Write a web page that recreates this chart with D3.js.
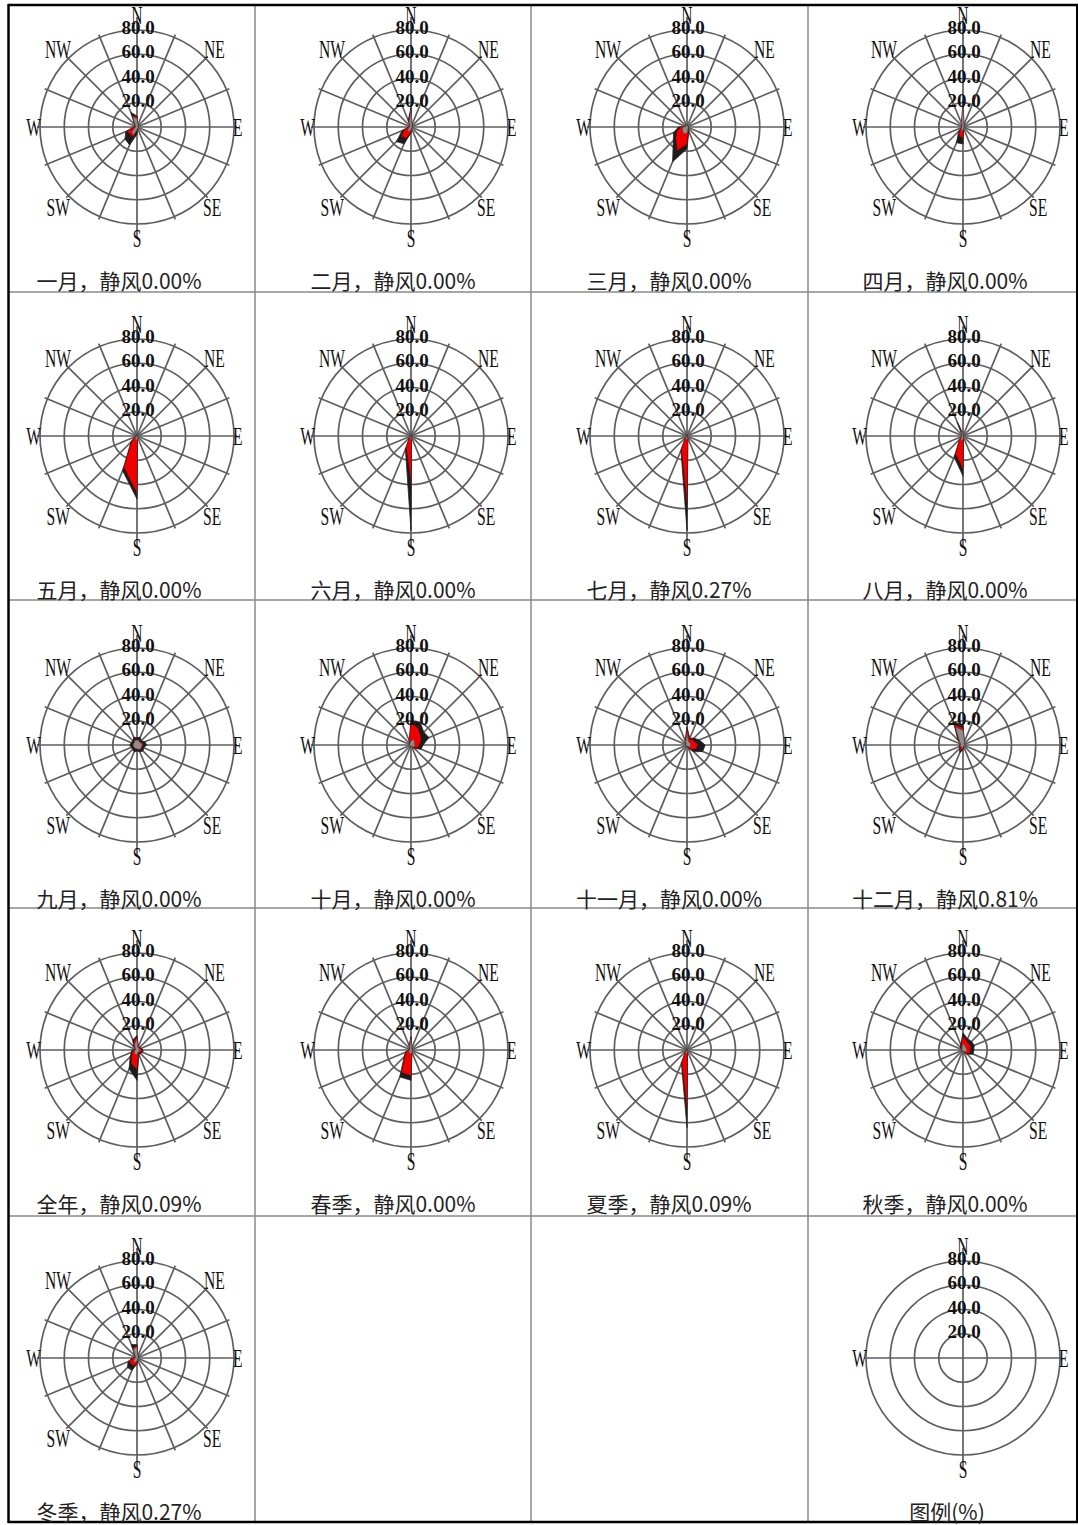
<!DOCTYPE html>
<html>
<head>
<meta charset="utf-8">
<script src="https://cdn.jsdelivr.net/npm/d3@7"></script>
<style>
  body { margin: 0; background: #fff; }
</style>
</head>
<body>
<svg id="chart" width="1078" height="1525"></svg>
<script>
// 16 compass sectors, clockwise from north
const directions = ["N","NNE","NE","ENE","E","ESE","SE","SSE","S","SSW","SW","WSW","W","WNW","NW","NNW"];

// one rose per month, the full year and the four seasons
const periodNames = ["一月","二月","三月","四月","五月","六月","七月","八月","九月","十月","十一月","十二月",
                     "全年","春季","夏季","秋季","冬季"];

// calm-wind frequency (%) for each period
const calmPercent = [0.00,0.00,0.00,0.00,0.00,0.00,0.27,0.00,0.00,0.00,0.00,0.81,
                     0.09,0.00,0.09,0.00,0.27];

// frequency (%) by direction, low wind-speed class
const lowSpeed = [
  [7,2,1,1,1,1,1,1,2,7,6,2,1,1,2,9],
  [14,2,1,1,1,1,1,1,2,4,4,2,1,1,1,4],
  [2,1,1,1,1,1,1,2,5,6,5,4,3,1,1,2],
  [20,2,1,1,1,1,1,1,3,3,2,1,1,1,1,3],
  [1,0,0,0,0,0,0,1,4,3,2,1,0,0,0,1],
  [1,0,0,0,0,0,0,1,3,2,1,0,0,0,0,0],
  [1,0,0,0,0,0,0,1,3,3,1,0,0,0,0,0],
  [2,1,0,0,0,0,0,1,3,4,2,1,1,1,1,6],
  [4,4,3,4,4,4,4,4,3,3,3,3,3,3,3,4],
  [3,5,4,3,3,3,2,1,1,1,1,1,1,1,1,2],
  [10,3,3,3,3,3,2,1,1,1,1,1,1,1,1,3],
  [12,3,1,1,2,2,1,1,2,3,2,2,2,2,4,16],
  [9,2,2,2,2,2,2,2,4,4,3,2,2,1,2,5],
  [9,2,1,1,1,1,1,2,3,3,2,2,1,1,1,3],
  [1,0,0,0,0,0,0,1,3,3,1,1,0,0,0,1],
  [5,4,3,3,3,3,2,1,1,1,1,1,1,1,1,2],
  [9,2,1,1,1,1,1,1,2,4,4,2,2,1,2,8]
];

// frequency (%) by direction, middle wind-speed class
const midSpeed = [
  [1,0,0,0,0,0,0,0,1,2,2,7,1,0,0,1],
  [1,0,0,0,0,0,0,0,2,6,7,4,1,0,0,1],
  [0,0,0,0,0,0,0,1,9,15,8,5,2,0,0,0],
  [1,0,0,0,0,0,0,0,6,5,2,0,0,0,0,0],
  [0,0,0,0,0,0,0,0,43,25,4,1,0,0,0,0],
  [0,0,0,0,0,0,0,0,35,8,1,0,0,0,0,0],
  [0,0,0,0,0,0,0,1,52,9,1,0,0,0,0,0],
  [0,0,0,0,0,0,0,0,24,12,2,0,0,0,0,1],
  [0,1,0,1,1,0,1,0,0,1,0,0,1,0,0,1],
  [15,10,7,6,4,3,1,0,0,0,0,0,0,0,0,2],
  [3,2,3,4,6,5,3,1,0,0,0,0,0,0,0,1],
  [2,0,0,0,0,0,0,0,1,2,1,1,1,0,1,2],
  [2,1,1,1,2,2,1,1,12,8,3,2,1,0,1,2],
  [1,0,0,0,0,0,0,0,18,17,5,2,1,0,0,1],
  [0,0,0,0,0,0,0,0,45,8,1,0,0,0,0,0],
  [6,4,4,4,3,3,2,1,0,0,0,0,0,0,1,2],
  [1,0,0,0,0,0,0,0,2,3,3,5,1,0,0,1]
];

// frequency (%) by direction, high wind-speed class
const highSpeed = [
  [1,0,0,0,0,0,0,0,3,7,6,1,1,0,1,3],
  [1,0,0,0,0,0,0,0,1,5,6,2,0,0,0,1],
  [0,0,0,0,0,0,0,1,4,10,3,3,2,0,0,0],
  [1,0,0,0,0,0,0,0,5,6,1,0,0,0,0,0],
  [0,0,0,0,0,0,0,0,5,3,1,0,0,0,0,0],
  [0,0,0,0,0,0,0,0,40,2,0,0,0,0,0,0],
  [0,0,0,0,0,0,0,0,23,1,0,0,0,0,0,0],
  [0,0,0,0,0,0,0,0,6,3,0,0,0,0,0,5],
  [2,2,2,2,3,2,2,2,2,2,2,2,2,2,2,2],
  [2,5,4,7,3,3,1,0,0,0,0,0,0,0,0,0],
  [2,1,2,4,6,6,3,1,0,0,0,0,0,0,0,0],
  [2,0,0,0,0,0,0,0,1,2,1,0,0,0,1,3],
  [1,0,0,1,1,1,1,1,9,5,2,1,1,0,1,2],
  [1,0,0,0,0,0,0,0,4,4,1,1,0,0,0,0],
  [0,0,0,0,0,0,0,0,16,1,0,0,0,0,0,0],
  [3,2,3,3,3,3,1,0,0,0,0,0,0,0,1,1],
  [1,0,0,0,0,0,0,0,1,4,4,1,1,0,1,3]
];

// radial ticks (%) and compass labels
const ringTicks = [20, 40, 60, 80];
const compassLabels = ["N","NE","E","SE","S","SW","W","NW"];
const legendCompass = ["N","E","S","W"];
const legendTitle = "图例(%)";

// ---------------- layout ----------------
const svg = d3.select("#chart");
const colCenters = [137, 411, 687, 963];
const rowCenters = [127, 436, 745, 1050, 1358];
const outerR = 97;
const r = d3.scaleLinear().domain([0, 80]).range([0, outerR]);
const sectorAngle = d3.scaleLinear().domain([0, 16]).range([0, 2 * Math.PI]);

const gridColor = "#5e5e5e";
const gridWidth = 1.7;
const serif = "'Liberation Serif','Times New Roman',serif";
const cjk = "'Noto Sans CJK SC','Noto Sans',sans-serif";

// table frame
const frame = svg.append("g");
[255, 531, 808].forEach(x => frame.append("line")
  .attr("x1", x).attr("x2", x).attr("y1", 5).attr("y2", 1522)
  .attr("stroke", "#8a8a8a").attr("stroke-width", 1.5));
[292, 600, 908, 1216].forEach(y => frame.append("line")
  .attr("x1", 8).attr("x2", 1078).attr("y1", y).attr("y2", y)
  .attr("stroke", "#8a8a8a").attr("stroke-width", 1.5));
frame.append("line").attr("x1", 8.5).attr("x2", 8.5).attr("y1", 4).attr("y2", 1523)
  .attr("stroke", "#000").attr("stroke-width", 2.5);
frame.append("line").attr("x1", 8).attr("x2", 1078).attr("y1", 5).attr("y2", 5)
  .attr("stroke", "#000").attr("stroke-width", 2.5);
frame.append("line").attr("x1", 8).attr("x2", 1078).attr("y1", 1522).attr("y2", 1522)
  .attr("stroke", "#000").attr("stroke-width", 2.5);
frame.append("line").attr("x1", 1077).attr("x2", 1077).attr("y1", 4).attr("y2", 1523)
  .attr("stroke", "#000").attr("stroke-width", 2);

// condensed serif label helper
function label(g, text, x, y, anchor, size, sx) {
  g.append("g").attr("transform", `translate(${x},${y}) scale(${sx},1)`)
    .append("text")
    .attr("text-anchor", anchor)
    .attr("font-family", serif)
    .attr("font-size", size)
    .attr("fill", "#111")
    .text(text);
}

function drawGrid(g, full) {
  // rings
  g.selectAll("circle.ring").data(ringTicks).join("circle")
    .attr("class", "ring").attr("r", d => r(d))
    .attr("fill", "none").attr("stroke", gridColor).attr("stroke-width", gridWidth);
  if (full) {
    // 16 spokes
    g.selectAll("line.spoke").data(directions).join("line")
      .attr("class", "spoke")
      .attr("x1", 0).attr("y1", 0)
      .attr("x2", (d, i) => Math.sin(sectorAngle(i)) * (i % 8 === 0 ? 110 : 100))
      .attr("y2", (d, i) => -Math.cos(sectorAngle(i)) * (i % 8 === 0 ? 110 : 100))
      .attr("stroke", gridColor).attr("stroke-width", gridWidth);
  } else {
    g.append("line").attr("x1", 0).attr("x2", 0).attr("y1", -110).attr("y2", 110)
      .attr("stroke", gridColor).attr("stroke-width", gridWidth);
    g.append("line").attr("x1", -99).attr("x2", 99).attr("y1", 0).attr("y2", 0)
      .attr("stroke", gridColor).attr("stroke-width", gridWidth);
  }
}

function drawLabels(g, labels) {
  const place = {
    N:  [0, -103, "middle"],
    S:  [0, 120, "middle"],
    E:  [96, 9, "start"],
    W:  [-96, 9, "end"],
    NE: [67, -69, "start"],
    NW: [-66, -69, "end"],
    SE: [66, 89, "start"],
    SW: [-67, 89, "end"]
  };
  labels.forEach(k => {
    const p = place[k];
    label(g, k, p[0], p[1], p[2], 26, 0.6);
  });
  ringTicks.forEach(t => {
    g.append("text")
      .attr("x", 1).attr("y", -r(t) + 4)
      .attr("text-anchor", "middle")
      .attr("font-family", serif)
      .attr("font-weight", "bold")
      .attr("font-size", 19)
      .attr("fill", "#111")
      .text(t.toFixed(1));
  });
}

const radialLine = d3.lineRadial()
  .angle((d, i) => sectorAngle(i))
  .radius(d => r(d))
  .curve(d3.curveLinearClosed);

periodNames.forEach((name, k) => {
  const cx = colCenters[k % 4], cy = rowCenters[Math.floor(k / 4)];
  const g = svg.append("g").attr("transform", `translate(${cx},${cy})`);
  drawGrid(g, true);

  const low = lowSpeed[k], mid = midSpeed[k], high = highSpeed[k];
  const total = low.map((v, i) => v + mid[i] + high[i]);
  const lowMid = low.map((v, i) => v + mid[i]);

  g.append("path").attr("d", radialLine(total))
    .attr("fill", "#1c1c1c").attr("stroke", "#222").attr("stroke-width", 0.8);
  g.append("path").attr("d", radialLine(lowMid))
    .attr("fill", "#f00000").attr("stroke", "#8a0000").attr("stroke-width", 0.4);
  g.append("path").attr("d", radialLine(low))
    .attr("fill", "#8e8e8e").attr("stroke", "#4a4a4a").attr("stroke-width", 0.5);

  drawLabels(g, compassLabels);

  svg.append("text")
    .attr("x", cx - 18).attr("y", cy + 162)
    .attr("text-anchor", "middle")
    .attr("font-family", cjk)
    .attr("font-size", 21)
    .attr("fill", "#222")
    .text(`${name}，静风${calmPercent[k].toFixed(2)}%`);
});

// legend cell
{
  const cx = colCenters[3], cy = rowCenters[4];
  const g = svg.append("g").attr("transform", `translate(${cx},${cy})`);
  drawGrid(g, false);
  drawLabels(g, legendCompass);
  svg.append("text")
    .attr("x", cx - 16).attr("y", cy + 162)
    .attr("text-anchor", "middle")
    .attr("font-family", cjk)
    .attr("font-size", 21)
    .attr("fill", "#222")
    .text(legendTitle);
}
</script>
</body>
</html>
